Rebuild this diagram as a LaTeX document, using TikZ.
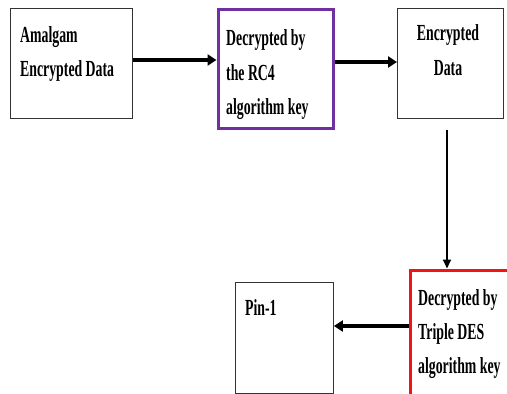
\documentclass[tikz,border=0pt]{standalone}
\usepackage{fontspec}
\setmainfont{Liberation Serif}[FakeStretch=0.6]
\usetikzlibrary{arrows.meta}
\definecolor{boxpurple}{RGB}{112,48,160}
\definecolor{boxred}{RGB}{240,20,20}
\tikzset{
  plainbox/.style={draw=black!80, line width=0.9pt},
  purplebox/.style={draw=boxpurple, line width=3pt},
  redbox/.style={draw=boxred, line width=3.2pt},
  txt/.style={font=\bfseries\fontsize{23}{34.5}\selectfont, inner sep=0pt, align=left, anchor=base west},
  ctxt/.style={font=\bfseries\fontsize{23}{34.5}\selectfont, inner sep=0pt, align=center, anchor=base},
  thickarrow/.style={line width=3.6pt, -{Triangle[length=9pt,width=11pt]}},
  thinarrow/.style={line width=2pt, -{Triangle[length=9pt,width=8pt]}}
}
\begin{document}
\begin{tikzpicture}[x=1pt,y=-1pt]
\useasboundingbox (0,0) rectangle (507,394);
\clip (0,0) rectangle (507,394);
\fill[white] (0,0) rectangle (507,394);
% boxes
\node[plainbox, minimum width=122pt, minimum height=110pt, anchor=north west, inner sep=0pt] (a) at (10,8) {};
\node[purplebox, minimum width=115pt, minimum height=119pt, anchor=north west, inner sep=0pt] (b) at (216.5,7.5) {};
\node[plainbox, minimum width=106pt, minimum height=110pt, anchor=north west, inner sep=0pt] (c) at (397,7.5) {};
\node[redbox, minimum width=110pt, minimum height=140pt, anchor=north west, inner sep=0pt] (d) at (408.5,268.5) {};
\node[plainbox, minimum width=98pt, minimum height=111pt, anchor=north west, inner sep=0pt] (e) at (235,282) {};
% texts
\node[txt] (ta1) at (20,42) {Amalgam};
\node[txt] (ta2) at (20,76) {Encrypted Data};
\node[txt] (tb1) at (226,45) {Decrypted by};
\node[txt] (tb2) at (226,80) {the RC4};
\node[txt] (tb3) at (226,114) {algorithm key};
\node[ctxt] (tc1) at (448,40) {Encrypted};
\node[ctxt] (tc2) at (448,75) {Data};
\node[txt] (td1) at (418,305) {Decrypted by};
\node[txt] (td2) at (418,339) {Triple DES};
\node[txt] (td3) at (418,373) {algorithm key};
\node[txt] (te1) at (245,315) {Pin-1};
% connectors
\coordinate (cs) at (447,130);
\draw[thickarrow] (a.east |- 0,60) -- (b.west |- 0,60);
\draw[thickarrow] (b.east |- 0,62) -- (c.west |- 0,62);
\draw[thinarrow] (cs) -- (cs |- d.north);
\draw[thickarrow] (d.west |- 0,326) -- (e.east |- 0,326);
\end{tikzpicture}
\end{document}
